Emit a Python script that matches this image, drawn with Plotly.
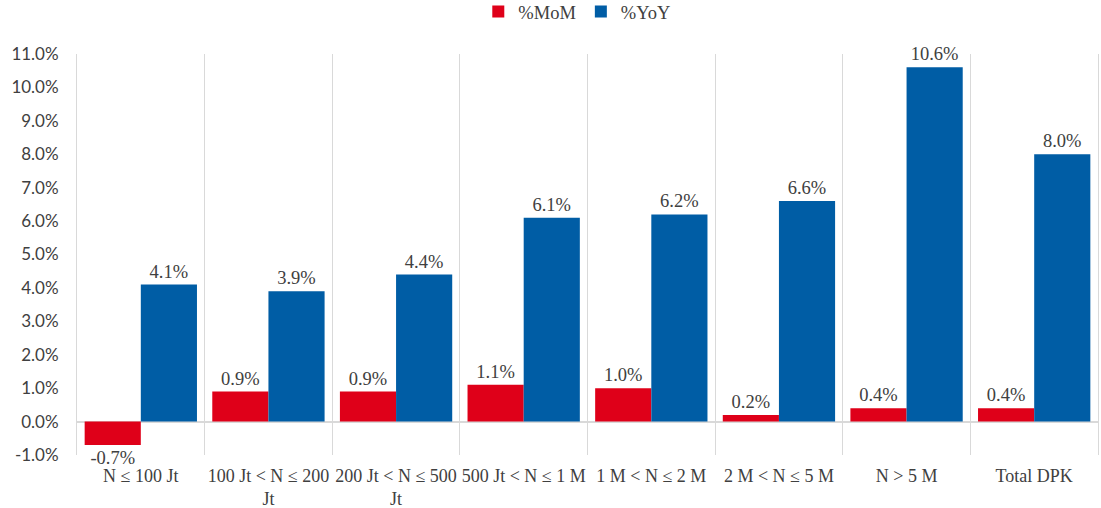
import plotly.graph_objects as go

categories = ["N ≤ 100 Jt", "100 Jt < N ≤ 200<br>Jt", "200 Jt < N ≤ 500<br>Jt", "500 Jt < N ≤ 1 M",
              "1 M < N ≤ 2 M", "2 M < N ≤ 5 M", "N > 5 M", "Total DPK"]
mom = [-0.7, 0.9, 0.9, 1.1, 1.0, 0.2, 0.4, 0.4]
yoy = [4.1, 3.9, 4.4, 6.1, 6.2, 6.6, 10.6, 8.0]
y_ticks = [-1, 0, 1, 2, 3, 4, 5, 6, 7, 8, 9, 10, 11]

RED = "#DF0019"
BLUE = "#005DA5"
TXT = "#404040"
GRID = "#D9D9D9"
SERIF = "Liberation Serif"
SANS = "Lato"

fig = go.Figure()
for name, vals, col in [("%MoM", mom, RED), ("%YoY", yoy, BLUE)]:
    fig.add_trace(go.Bar(
        x=categories, y=vals, name=name, marker=dict(color=col, line=dict(width=0)),
        text=[f"{v:.1f}%" for v in vals], textposition="outside",
        textfont=dict(family=SERIF, size=18.5, color=TXT), cliponaxis=False,
    ))

fig.update_layout(
    width=1101, height=508,
    margin=dict(l=77, r=3, t=54, b=53, autoexpand=False),
    plot_bgcolor="white", paper_bgcolor="white",
    barmode="group", bargap=0.12, bargroupgap=0,
    showlegend=True,
    legend=dict(orientation="h", x=0.49, xanchor="center", y=1.105, yanchor="middle",
                font=dict(family=SERIF, size=18.5, color=TXT), itemwidth=30,
                traceorder="normal"),
    xaxis=dict(type="category", tickson="boundaries", showgrid=True, gridcolor=GRID, gridwidth=1,
               ticks="", showline=False, zeroline=False, ticklabelstandoff=8,
               tickangle=0, automargin=False,
               tickfont=dict(family=SERIF, size=18, color=TXT)),
    yaxis=dict(range=[-1, 11], tickvals=y_ticks, ticktext=[f"{v:.1f}%" for v in y_ticks],
               showgrid=False, zeroline=True, zerolinecolor=GRID, zerolinewidth=1.5,
               showline=True, mirror=True, linecolor=GRID, linewidth=1,
               ticklabelstandoff=14, automargin=False,
               tickfont=dict(family=SANS, size=17, color=TXT), ticklen=0),
)

fig.write_html("out.html")
